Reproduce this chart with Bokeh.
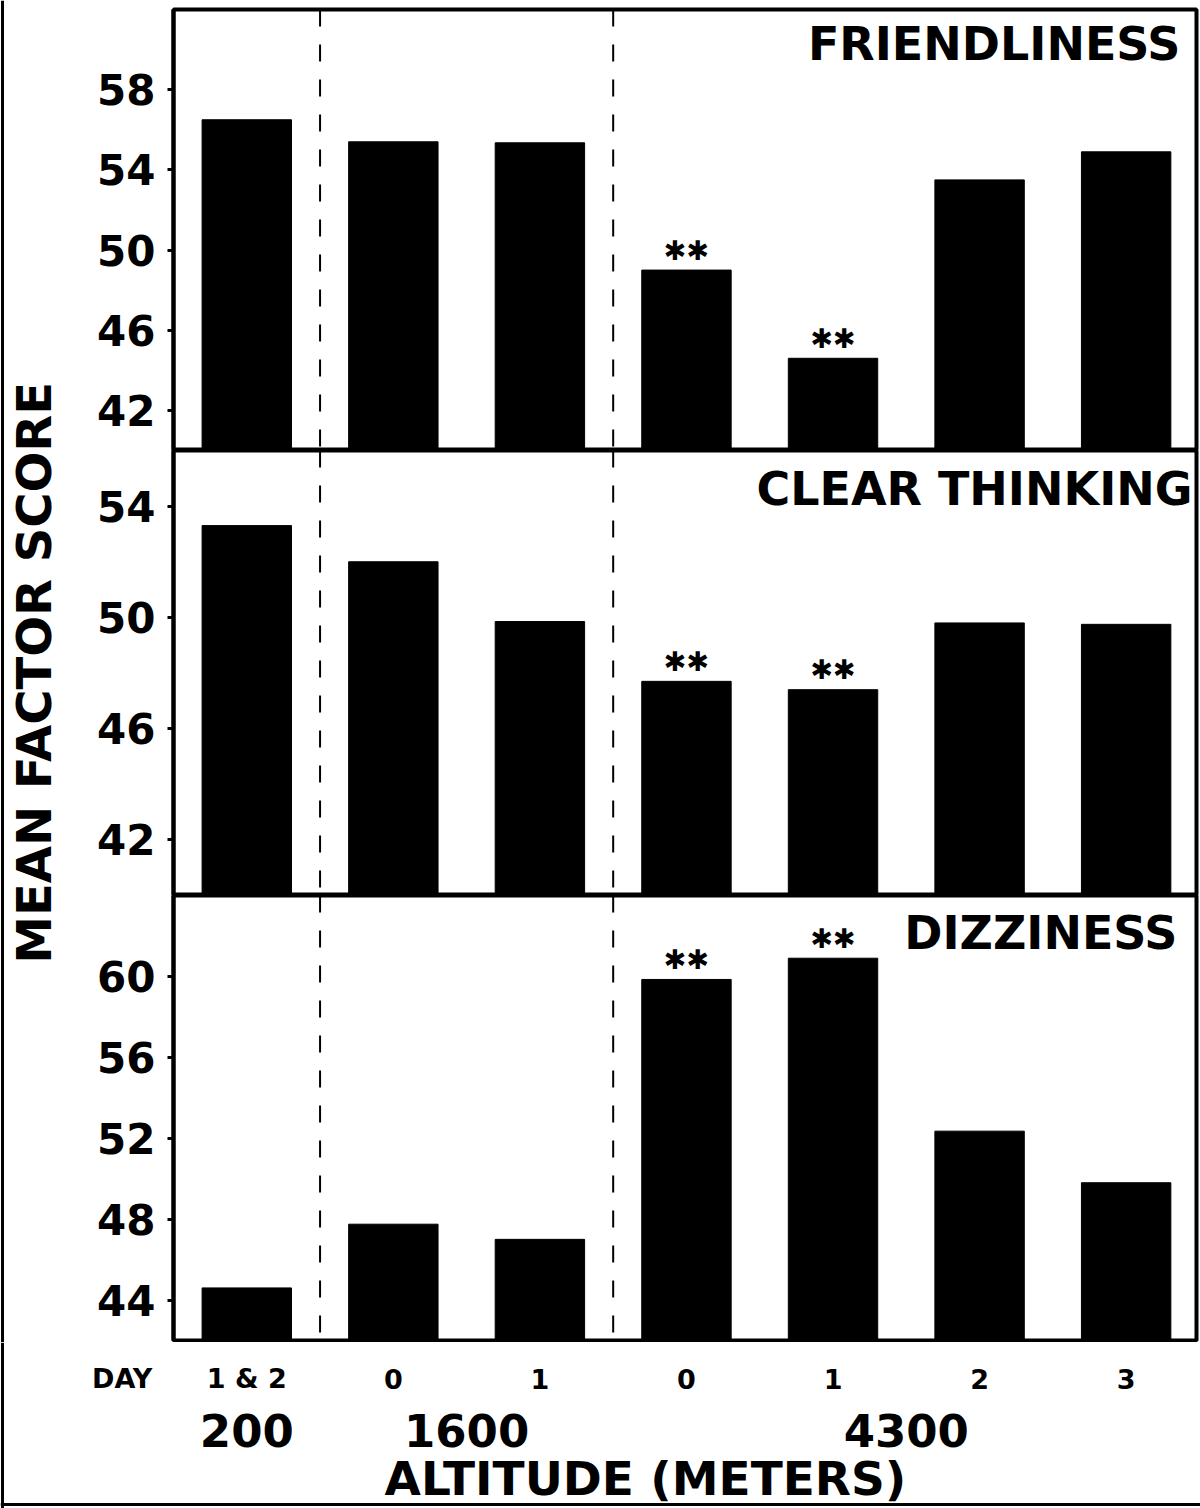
import math
from bokeh.plotting import figure
from bokeh.models import Range1d, FixedTicker, Span, ColumnDataSource
from bokeh.layouts import column, row
from bokeh.core.properties import value
from bokeh.embed import file_html
from bokeh.resources import INLINE

# ---------------- data ----------------
days = ["1 & 2", "0", "1", "0", "1", "2", "3"]
altitudes = ["200", "1600", "1600", "4300", "4300", "4300", "4300"]

friendliness = [56.5, 55.4, 55.35, 49.0, 44.6, 53.5, 54.9]
clear_thinking = [53.3, 52.0, 49.85, 47.7, 47.4, 49.8, 49.75]
dizziness = [44.6, 47.75, 47.0, 59.85, 60.9, 52.35, 49.8]

sig_friendliness = [0, 0, 0, 1, 1, 0, 0]
sig_clear_thinking = [0, 0, 0, 1, 1, 0, 0]
sig_dizziness = [0, 0, 0, 1, 1, 0, 0]

ticks_friendliness = [42, 46, 50, 54, 58]
ticks_clear_thinking = [42, 46, 50, 54]
ticks_dizziness = [44, 48, 52, 56, 60]

range_friendliness = (40, 62)
range_clear_thinking = (40, 56)
range_dizziness = (42, 64)

titles = ["FRIENDLINESS", "CLEAR THINKING", "DIZZINESS"]
y_label = "MEAN FACTOR SCORE"
x_label = "ALTITUDE (METERS)"
day_word = "DAY"

# ---------------- layout constants ----------------
FONT = "DejaVu Sans"
LABEL_W = 78
PANEL_W = 1122
BORDER_L = 95
BORDER_R = 4
X_START, X_END = -0.5, 6.48
BAR_W = 0.61
OUTLINE = 4

xs = list(range(len(days)))

# group separators (between altitude groups)
separators = [i + 0.5 for i in range(len(altitudes) - 1) if altitudes[i] != altitudes[i + 1]]


def make_panel(vals, sig, ticks, yr, title, title_dx, title_dy, height, btop, bbot):
    p = figure(width=PANEL_W, height=height, x_range=Range1d(X_START, X_END),
               y_range=Range1d(*yr), output_backend="svg", toolbar_location=None,
               x_axis_location=None, min_border_left=BORDER_L, min_border_right=BORDER_R,
               min_border_top=btop, min_border_bottom=bbot)
    p.grid.visible = False
    p.outline_line_color = "black"
    p.outline_line_width = OUTLINE
    p.background_fill_color = "white"
    p.border_fill_color = "white"

    src = ColumnDataSource(dict(x=xs, top=vals, bottom=[yr[0]] * len(vals)))
    p.vbar(x="x", top="top", bottom="bottom", width=BAR_W, source=src,
           fill_color="black", line_color="black")

    sx = [x for x, s in zip(xs, sig) if s]
    sy = [v for v, s in zip(vals, sig) if s]
    p.text(x=sx, y=sy, text=["✱✱"] * len(sx), text_font=value(FONT),
           text_font_size="27px", text_align="center", text_baseline="middle",
           y_offset=-20, text_color="black")

    for s in separators:
        p.add_layout(Span(location=s, dimension="height", line_color="black",
                          line_width=2, line_dash="17 18"))

    p.text(x=[X_END], y=[yr[1]], text=[title], text_font=value(FONT),
           text_font_style="bold", text_font_size="46px", text_align="right",
           text_baseline="middle", x_offset=title_dx, y_offset=title_dy, text_color="black")

    ax = p.yaxis[0]
    ax.ticker = FixedTicker(ticks=ticks)
    ax.axis_line_color = "black"
    ax.axis_line_width = OUTLINE
    ax.major_tick_line_width = 3
    ax.major_tick_out = 6
    ax.major_tick_in = 0
    ax.minor_tick_line_color = None
    ax.major_label_standoff = 12
    ax.major_label_text_font = FONT
    ax.major_label_text_font_style = "bold"
    ax.major_label_text_font_size = "42px"
    ax.major_label_text_color = "black"
    return p


H1, H2, H3 = 450, 445, 447
p1 = make_panel(friendliness, sig_friendliness, ticks_friendliness, range_friendliness,
                titles[0], -16, 34, H1, 9, 0)
p2 = make_panel(clear_thinking, sig_clear_thinking, ticks_clear_thinking, range_clear_thinking,
                titles[1], -4, 38, H2, 0, 0)
p3 = make_panel(dizziness, sig_dizziness, ticks_dizziness, range_dizziness,
                titles[2], -19, 37, H3, 0, 2)

# ---------------- y label column ----------------
total_h = H1 + H2 + H3
lab = figure(width=LABEL_W, height=total_h, x_range=Range1d(0, LABEL_W), y_range=Range1d(0, 1),
             output_backend="svg", toolbar_location=None, x_axis_location=None,
             y_axis_location=None, min_border=0)
lab.grid.visible = False
lab.outline_line_color = None
lab.text(x=[33], y=[0.499], text=[y_label], angle=math.pi / 2, text_font=value(FONT),
         text_font_style="bold", text_font_size="48px", text_align="center",
         text_baseline="middle", text_color="black")
lab.add_layout(Span(location=2, dimension="height", line_color="black", line_width=3))

# ---------------- bottom labels ----------------
BOT_H = 1508 - total_h
BOT_W = LABEL_W + PANEL_W
frame_w = PANEL_W - BORDER_L - BORDER_R
k = frame_w / (X_END - X_START)
bx0 = X_START - (LABEL_W + BORDER_L) / k
bx1 = X_END + BORDER_R / k
bot = figure(width=BOT_W, height=BOT_H, x_range=Range1d(bx0, bx1), y_range=Range1d(BOT_H, 0),
             output_backend="svg", toolbar_location=None, x_axis_location=None,
             y_axis_location=None, min_border=0)
bot.grid.visible = False
bot.outline_line_color = None
bot.add_layout(Span(location=bx0 + 2 / k, dimension="height", line_color="black", line_width=3))
bot.add_layout(Span(location=BOT_H - 4, dimension="width", line_color="black", line_width=3))

# day tick labels
bot.text(x=xs, y=[36] * len(xs), text=days, text_font=value(FONT), text_font_style="bold",
         text_font_size="27px", text_align="center", text_baseline="middle", text_color="black")
bot.text(x=[-0.85], y=[36], text=[day_word], text_font=value(FONT), text_font_style="bold",
         text_font_size="27px", text_align="center", text_baseline="middle", text_color="black")

# altitude group labels
groups = []
for a in altitudes:
    if a not in groups:
        groups.append(a)
gx = [sum(i for i, a in enumerate(altitudes) if a == g) / altitudes.count(g) for g in groups]
bot.text(x=gx, y=[88] * len(gx), text=groups, text_font=value(FONT), text_font_style="bold",
         text_font_size="45px", text_align="center", text_baseline="middle", text_color="black")

bot.text(x=[2.72], y=[136], text=[x_label], text_font=value(FONT), text_font_style="bold",
         text_font_size="47px", text_align="center", text_baseline="middle", text_color="black")

layout = column(row(lab, column(p1, p2, p3, spacing=0), spacing=0), bot, spacing=0)

open("out.html", "w").write(file_html(layout, INLINE))
